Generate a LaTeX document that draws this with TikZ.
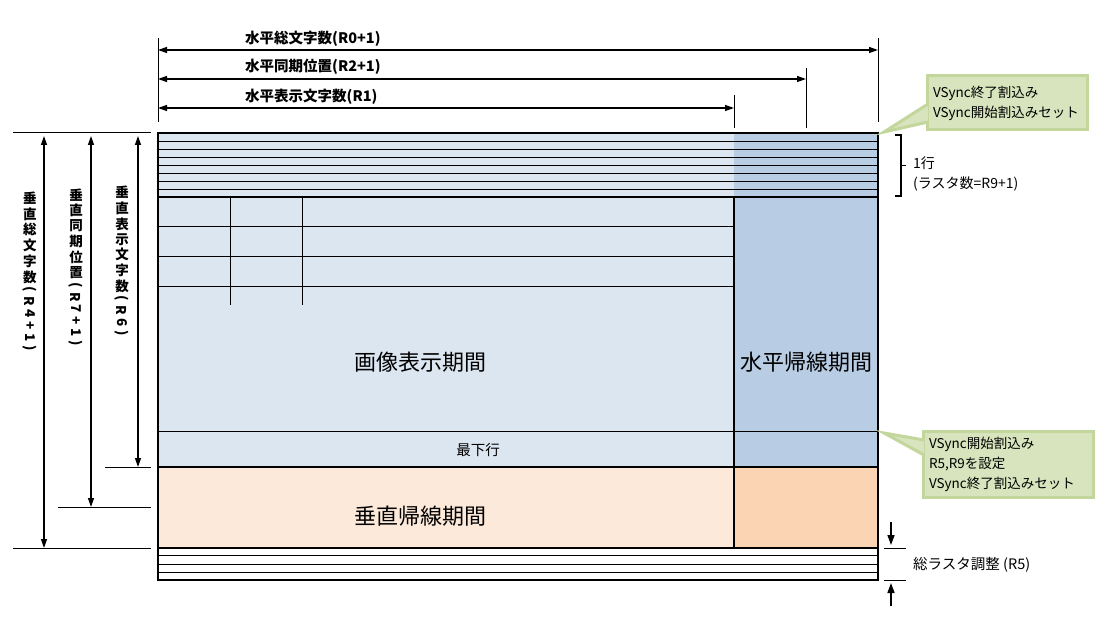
\documentclass[tikz,border=0pt]{standalone}
\usepackage{fontspec}
\setmainfont{Noto Sans CJK JP}
\usetikzlibrary{arrows.meta,decorations.pathreplacing}
\definecolor{lb}{HTML}{DCE6F1}
\definecolor{db}{HTML}{B8CCE4}
\definecolor{lo}{HTML}{FDE9D9}
\definecolor{do}{HTML}{FBD4B4}
\definecolor{cg}{HTML}{D7E4BD}
\definecolor{cgb}{HTML}{C3D69B}
\newcommand{\vt}[1]{\rotatebox[origin=c]{-90}{#1}}
\begin{document}
\begin{tikzpicture}[x=1pt,y=-1pt,
  lbl/.style={font=\fontsize{14.5}{17}\selectfont,inner sep=1pt},
  big/.style={font=\fontsize{22}{26}\selectfont},
  thick/.style={line width=2.2pt},
  thin/.style={line width=1pt},
  arr/.style={-{Triangle[length=10pt,width=7pt]},line width=1.5pt},
  darr/.style={{Triangle[length=9pt,width=6pt]}-{Triangle[length=9pt,width=6pt]},line width=1.3pt},
  call/.style={fill=cg,draw=cgb,line width=3pt,align=left,font=\fontsize{13.5}{20}\selectfont}]
\useasboundingbox (0,0) rectangle (1103,617);
% fills
\fill[lb] (158,133) rectangle (734,467);
\fill[db] (734,133) rectangle (878,467);
\fill[lo] (158,467) rectangle (734,548);
\fill[do] (734,467) rectangle (878,548);
% raster lines
\foreach \y in {141.5,149.5,157.5,165.5,173.5,181.5,189.5} \draw[thin] (158,\y) -- (878,\y);
\foreach \y in {555.5,564,572} \draw[thin] (158,\y) -- (878,\y);
% grid
\foreach \y in {227,257,287} \draw[thin] (158,\y) -- (734,\y);
\foreach \x in {230,302} \draw[thin] (\x,197) -- (\x,305);
\draw[thin] (158,431) -- (878,431);
% thick lines
\draw[thick] (158,197) -- (878,197);
\draw[thick] (158,467) -- (878,467);
\draw[thick] (158,548) -- (878,548);
\draw[thick] (734,197) -- (734,548);
\draw[thick] (158,133) rectangle (878,580);
% texts
\node[big] (disp) at (420,362) {画像表示期間};
\node[big] (hbl) at (806,362) {水平帰線期間};
\node[big] (vbl) at (420,516) {垂直帰線期間};
\node[lbl] (last) at (478,450) {最下行};
% top dimensions
\coordinate (t1a) at (158,38); \coordinate (t1b) at (158,122);
\coordinate (t2a) at (878,38); \coordinate (t2b) at (878,122);
\coordinate (t3a) at (806,68); \coordinate (t3b) at (806,128);
\coordinate (t4a) at (734,95); \coordinate (t4b) at (734,128);
\draw[thin] (t1a) -- (t1b); \draw[thin] (t2a) -- (t2b);
\draw[thin] (t3a) -- (t3b); \draw[thin] (t4a) -- (t4b);
\coordinate (h1l) at (158,50); \coordinate (h1r) at (878,50);
\coordinate (h2l) at (158,79); \coordinate (h2r) at (806,79);
\coordinate (h3l) at (158,108); \coordinate (h3r) at (734,108);
\draw[darr] (h1l) -- (h1r); \draw[darr] (h2l) -- (h2r); \draw[darr] (h3l) -- (h3r);
\node[lbl,anchor=west] (l1) at (244,39) {\bfseries 水平総文字数(R0+1)};
\node[lbl,anchor=west] (l2) at (244,67) {\bfseries 水平同期位置(R2+1)};
\node[lbl,anchor=west] (l3) at (244,97) {\bfseries 水平表示文字数(R1)};
% left dimensions
\coordinate (v0a) at (13,133); \coordinate (v0b) at (151,133);
\draw[thin] (v0a) -- (v0b);
\coordinate (e1a) at (13,548); \coordinate (e1b) at (151,548);
\coordinate (e2a) at (58,507); \coordinate (e2b) at (151,507);
\coordinate (e3a) at (105,467); \coordinate (e3b) at (151,467);
\draw[thin] (e1a) -- (e1b); \draw[thin] (e2a) -- (e2b); \draw[thin] (e3a) -- (e3b);
\coordinate (a1t) at (44,136); \coordinate (a1b) at (44,548);
\coordinate (a2t) at (91,136); \coordinate (a2b) at (91,507);
\coordinate (a3t) at (138,136); \coordinate (a3b) at (138,467);
\draw[darr] (a1b) -- (a1t); \draw[darr] (a2b) -- (a2t); \draw[darr] (a3b) -- (a3t);
\tikzset{vst/.style={fill=white,inner sep=0pt,font=\bfseries\fontsize{13.5}{14.5}\selectfont}}
\node[vst] (vl1) at (30,272) {\shortstack{垂\\直\\総\\文\\字\\数\\\vt{(}\\\vt{R}\\\vt{4}\\\vt{+}\\\vt{1}\\\vt{)}}};
\node[vst] (vl2) at (76,268) {\shortstack{垂\\直\\同\\期\\位\\置\\\vt{(}\\\vt{R}\\\vt{7}\\\vt{+}\\\vt{1}\\\vt{)}}};
\node[vst] (vl3) at (122,262) {\shortstack{垂\\直\\表\\示\\文\\字\\数\\\vt{(}\\\vt{R}\\\vt{6}\\\vt{)}}};
% bracket
\coordinate (bt) at (895,135); \coordinate (bb) at (895,196);
\draw[line width=1.8pt] (bt) -- ++(6,0) -- ++(0,61) -- ++(-6,0);
\draw[line width=1.8pt] (901,165.5) -- ++(5,0);
\node[lbl,anchor=west,align=left,font=\fontsize{14}{20}\selectfont] (row) at (912,174) {1行\\(ラスタ数=R9+1)};
% callouts
\node[call,minimum width=160pt,minimum height=54pt,text width=148pt] (c1) at (1007,103) {VSync終了割込み\\VSync開始割込みセット};
\fill[cg] (884,132) -- (928,104) -- (928,122) -- cycle;
\draw[cgb,line width=3pt] (928,104) -- (884,132) -- (928,122);
\node[call,minimum width=170pt,minimum height=66pt,text width=158pt] (c2) at (1008,464) {VSync開始割込み\\R5,R9を設定\\VSync終了割込みセット};
\fill[cg] (884,433) -- (924,440) -- (924,455) -- cycle;
\draw[cgb,line width=3pt] (924,440) -- (884,433) -- (924,455);
% bottom right
\coordinate (r1a) at (884,548); \coordinate (r1b) at (906,548);
\coordinate (r2a) at (884,580); \coordinate (r2b) at (906,580);
\draw[thin] (r1a) -- (r1b); \draw[thin] (r2a) -- (r2b);
\coordinate (d1) at (891,522); \coordinate (d1e) at (891,545);
\coordinate (u1) at (891,606); \coordinate (u1e) at (891,583);
\draw[arr] (d1) -- (d1e); \draw[arr] (u1) -- (u1e);
\node[lbl,anchor=west] (adj) at (912,565) {総ラスタ調整 (R5)};
\end{tikzpicture}
\end{document}
